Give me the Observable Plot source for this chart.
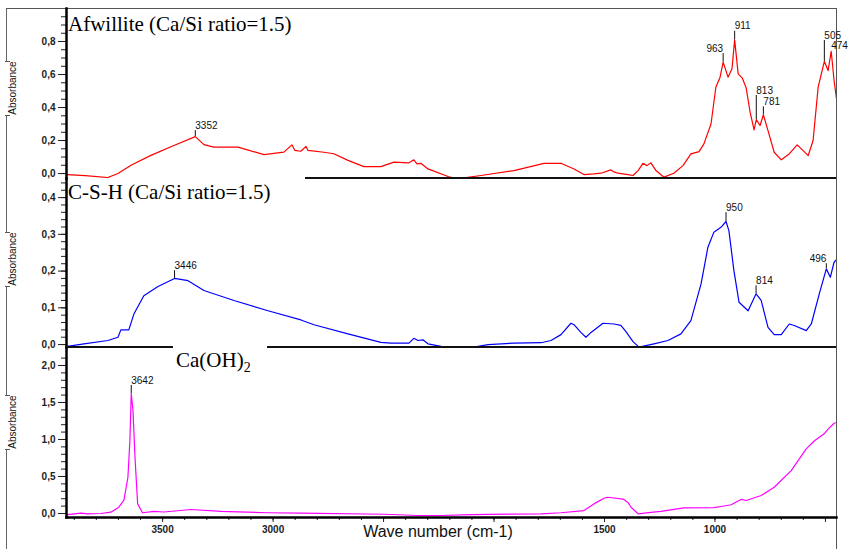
<!DOCTYPE html>
<html><head><meta charset="utf-8">
<script src="https://cdn.jsdelivr.net/npm/d3@7"></script>
<script src="https://cdn.jsdelivr.net/npm/@observablehq/plot@0.6"></script>
<style>
body{margin:0;background:#fff;}
#chart{position:relative;width:848px;height:549px;overflow:hidden;font-family:"Liberation Sans",Arial,sans-serif;background:#fff;}
.panel{position:absolute;left:0;}
.panel svg{overflow:visible;}
.lbl{position:absolute;font-family:"Liberation Serif","Times New Roman",serif;font-size:21px;line-height:21px;color:#000;white-space:nowrap;}
.lbl sub{font-size:14px;vertical-align:-5px;line-height:0;}
.absgap{position:absolute;left:5px;width:5px;background:#fff;border-top:1px solid #555;border-bottom:1px solid #555;}
.abstxt{position:absolute;width:60px;height:12px;line-height:12px;font-size:10px;text-align:center;transform:rotate(-90deg);color:#111;}
.hline{position:absolute;height:1.5px;background:#111;}
</style>
</head><body>
<div id="chart"></div>
<script>
// ---------- data ----------
const xDomain = [3935, 450];
const xMajorTicks = [3500, 3000, 2500, 2000, 1500, 1000, 500];
const xTickLabels = [3500, 3000, 1500, 1000];

// Afwillite (Ca/Si = 1.5) : [wave number, absorbance]
const afwillite = [[3933,-0.006],[3850,-0.012],[3748,-0.024],[3702,0.0],[3643,0.05],[3553,0.11],[3449,0.17],[3352,0.224],[3313,0.175],[3268,0.16],[3159,0.16],[3041,0.115],[2951,0.13],[2915,0.174],[2901,0.14],[2874,0.135],[2851,0.165],[2842,0.14],[2770,0.129],[2725,0.12],[2661,0.08],[2589,0.042],[2512,0.042],[2453,0.069],[2385,0.065],[2363,0.083],[2349,0.059],[2331,0.062],[2299,0.028],[2208,-0.018],[2181,-0.028],[2136,-0.026],[2059,-0.012],[1910,0.018],[1774,0.062],[1697,0.062],[1638,0.028],[1593,-0.006],[1548,-0.002],[1516,0.002],[1471,0.022],[1457,0.01],[1439,0.002],[1394,-0.006],[1371,-0.012],[1348,0.018],[1326,0.062],[1308,0.048],[1290,0.065],[1267,0.018],[1231,-0.022],[1186,0.002],[1145,0.048],[1109,0.119],[1072,0.133],[1050,0.18],[1018,0.30],[996,0.523],[977,0.584],[963,0.675],[941,0.584],[923,0.635],[911,0.81],[895,0.604],[877,0.58],[859,0.52],[841,0.372],[823,0.265],[813,0.327],[796,0.291],[781,0.356],[760,0.26],[732,0.129],[700,0.083],[664,0.119],[628,0.174],[601,0.139],[578,0.109],[556,0.2],[533,0.523],[505,0.679],[488,0.624],[474,0.741],[461,0.564],[450,0.453]];
const afwPeakWave = [3352, 963, 911, 813, 781, 505, 474];
const afwPeakAbs  = [0.224, 0.675, 0.81, 0.327, 0.356, 0.679, 0.741];
const afwPeakTop  = [0.26, 0.727, 0.862, 0.473, 0.404, 0.806, 0.741];
const afwPeakSide = ["start","end","start","start","start","start","start"];

// C-S-H (Ca/Si = 1.5)
const csh = [[3931,-0.005],[3856,0.002],[3748,0.011],[3702,0.02],[3689,0.04],[3653,0.04],[3630,0.083],[3585,0.133],[3521,0.158],[3446,0.18],[3385,0.174],[3313,0.147],[3177,0.12],[3023,0.092],[2874,0.067],[2815,0.054],[2661,0.029],[2512,0.006],[2467,0.004],[2385,0.004],[2363,0.017],[2344,0.011],[2322,0.013],[2299,0.002],[2240,-0.005],[2181,-0.007],[2091,-0.007],[2027,0.0],[1910,0.004],[1787,0.005],[1742,0.011],[1697,0.027],[1652,0.058],[1638,0.054],[1607,0.033],[1584,0.02],[1561,0.033],[1507,0.058],[1457,0.056],[1426,0.052],[1403,0.035],[1371,0.008],[1344,-0.007],[1276,0.002],[1213,0.011],[1154,0.029],[1109,0.065],[1063,0.165],[1032,0.265],[1005,0.306],[973,0.319],[950,0.335],[937,0.31],[914,0.2],[891,0.115],[850,0.092],[814,0.138],[791,0.12],[760,0.047],[732,0.027],[700,0.027],[664,0.056],[641,0.052],[587,0.038],[564,0.056],[528,0.138],[496,0.206],[478,0.183],[461,0.224],[447,0.233]];
const cshPeakWave = [3446, 950, 814, 496];
const cshPeakAbs  = [0.18, 0.335, 0.138, 0.206];
const cshPeakTop  = [0.201, 0.359, 0.16, 0.22];
const cshPeakSide = ["start","start","start","end"];

// Ca(OH)2
const caoh2 = [[3931,-0.014],[3870,0.004],[3838,-0.004],[3779,0.0],[3734,0.018],[3698,0.085],[3675,0.18],[3657,0.49],[3648,0.99],[3642,1.62],[3634,1.39],[3625,0.76],[3613,0.13],[3591,0.01],[3539,0.03],[3494,0.02],[3372,0.054],[3236,0.03],[3023,0.01],[2874,0.005],[2498,-0.01],[2344,-0.027],[2240,-0.027],[2104,-0.015],[1787,-0.005],[1697,0.01],[1593,0.04],[1548,0.13],[1500,0.21],[1485,0.22],[1416,0.195],[1394,0.15],[1380,0.085],[1348,-0.004],[1290,0.015],[1245,0.03],[1140,0.077],[1004,0.08],[972,0.095],[927,0.118],[882,0.19],[859,0.176],[791,0.243],[732,0.355],[655,0.58],[587,0.874],[551,0.98],[506,1.077],[488,1.14],[461,1.22],[447,1.23]];
const cohPeakWave = [3642];
const cohPeakAbs  = [1.62];
const cohPeakTop  = [1.73];
const cohPeakSide = ["start"];

const panelTitles = ["Afwillite (Ca/Si ratio=1.5)", "C-S-H (Ca/Si ratio=1.5)"];
const yAxisTitle = "Absorbance";
const xAxisTitle = "Wave number (cm-1)";

// ---------- drawing ----------
const chart = document.getElementById("chart");
const fmtComma = d => d3.format(".1f")(d).replace(".", ",");
const peaksOf = (w, a, t, s) => w.map((wave, i) => ({wave, abs: a[i], top: t[i], side: s[i]}));

function panel({data, color, yDomain, yMajor, yMinor, peaks, height, marginTop, marginBottom, top, xAxis}) {
  const marks = [
    Plot.axisY({ticks: yMinor, tickSize: 5, tickFormat: () => "", label: null, stroke: "#222"}),
    Plot.axisY({ticks: yMajor, tickSize: 8, tickPadding: 3, tickFormat: fmtComma, label: null, fontWeight: "bold", stroke: "#222", fill: "#222"}),
    Plot.line(data, {x: d => d[0], y: d => d[1], stroke: color, strokeWidth: 1.2, clip: true}),
    Plot.ruleX(peaks, {x: "wave", y1: "abs", y2: "top", stroke: "#111", strokeWidth: 1}),
    Plot.text(peaks.filter(p => p.side === "start"), {x: "wave", y: "top", text: d => String(d.wave), textAnchor: "start", dy: -5, fontSize: 10, fill: "#111"}),
    Plot.text(peaks.filter(p => p.side === "end"), {x: "wave", y: "top", text: d => String(d.wave), textAnchor: "end", dy: -5, fontSize: 10, fill: "#111"}),
    Plot.frame({anchor: "left", stroke: "#000", strokeWidth: 2.5})
  ];
  if (xAxis) {
    marks.push(
      Plot.axisX({ticks: d3.range(3900, 450, -100), tickSize: 3, tickFormat: () => "", label: null, stroke: "#222"}),
      Plot.axisX({ticks: xMajorTicks, tickSize: 5, tickPadding: 3, tickFormat: d => xTickLabels.includes(d) ? String(d) : "", label: null, fontWeight: "bold", stroke: "#222", fill: "#222"}),
      Plot.frame({anchor: "bottom", stroke: "#000", strokeWidth: 2.5})
    );
  }
  const svg = Plot.plot({
    width: 848, height, marginLeft: 66, marginRight: 12, marginTop, marginBottom,
    style: {fontFamily: "'Liberation Sans', Arial, sans-serif", fontSize: "10px", background: "transparent", color: "#111"},
    x: {domain: xDomain, axis: null},
    y: {domain: yDomain, axis: null},
    marks
  });
  const wrap = document.createElement("div");
  wrap.className = "panel";
  wrap.style.top = top + "px";
  wrap.appendChild(svg);
  chart.appendChild(wrap);
}

// outer frame
const frame = document.createElement("div");
Object.assign(frame.style, {position: "absolute", left: "6px", top: "8px", width: "831px", height: "560px", boxSizing: "border-box", borderTop: "1px solid #555", borderLeft: "1px solid #666", borderRight: "1.5px solid #555"});
chart.appendChild(frame);

panel({data: afwillite, color: "#ff0000", yDomain: [-0.03, 1.0], yMajor: [0, 0.2, 0.4, 0.6, 0.8], yMinor: d3.range(0, 1.0, 0.05),
  peaks: peaksOf(afwPeakWave, afwPeakAbs, afwPeakTop, afwPeakSide), height: 178, marginTop: 8, marginBottom: 0, top: 0});
panel({data: csh, color: "#0000ff", yDomain: [-0.008, 0.452], yMajor: [0, 0.1, 0.2, 0.3, 0.4], yMinor: d3.range(0, 0.45, 0.02),
  peaks: peaksOf(cshPeakWave, cshPeakAbs, cshPeakTop, cshPeakSide), height: 169, marginTop: 0, marginBottom: 0, top: 178});
panel({data: caoh2, color: "#ff00ff", yDomain: [-0.054, 2.243], yMajor: [0, 0.5, 1.0, 1.5, 2.0], yMinor: d3.range(0, 2.2, 0.1),
  peaks: peaksOf(cohPeakWave, cohPeakAbs, cohPeakTop, cohPeakSide), height: 202, marginTop: 0, marginBottom: 32, top: 347, xAxis: true});

// separators between panels
function hline(left, right, y) {
  const d = document.createElement("div");
  d.className = "hline";
  Object.assign(d.style, {left: left + "px", width: (right - left) + "px", top: (y - 0.75) + "px"});
  chart.appendChild(d);
}
hline(305, 836, 178);
hline(66, 173, 347);
hline(267, 836, 347);

// y titles
[88, 259, 422].forEach(cy => {
  const g = document.createElement("div");
  g.className = "absgap";
  Object.assign(g.style, {top: (cy - 27) + "px", height: "53px"});
  chart.appendChild(g);
  const t = document.createElement("div");
  t.className = "abstxt";
  t.textContent = yAxisTitle;
  Object.assign(t.style, {left: (13 - 30) + "px", top: (cy - 6) + "px"});
  chart.appendChild(t);
});

// panel titles
function label(html, left, top) {
  const d = document.createElement("div");
  d.className = "lbl";
  d.innerHTML = html;
  Object.assign(d.style, {left: left + "px", top: top + "px"});
  chart.appendChild(d);
}
label(panelTitles[0], 68, 14);
label(panelTitles[1], 68, 181.5);
label("Ca(OH)<sub>2</sub>", 176, 350);

// x title
const xt = document.createElement("div");
Object.assign(xt.style, {position: "absolute", left: "438px", top: "524px", transform: "translateX(-50%)", fontSize: "16px", lineHeight: "16px", whiteSpace: "nowrap", color: "#111"});
xt.textContent = xAxisTitle;
chart.appendChild(xt);
</script>
</body></html>
